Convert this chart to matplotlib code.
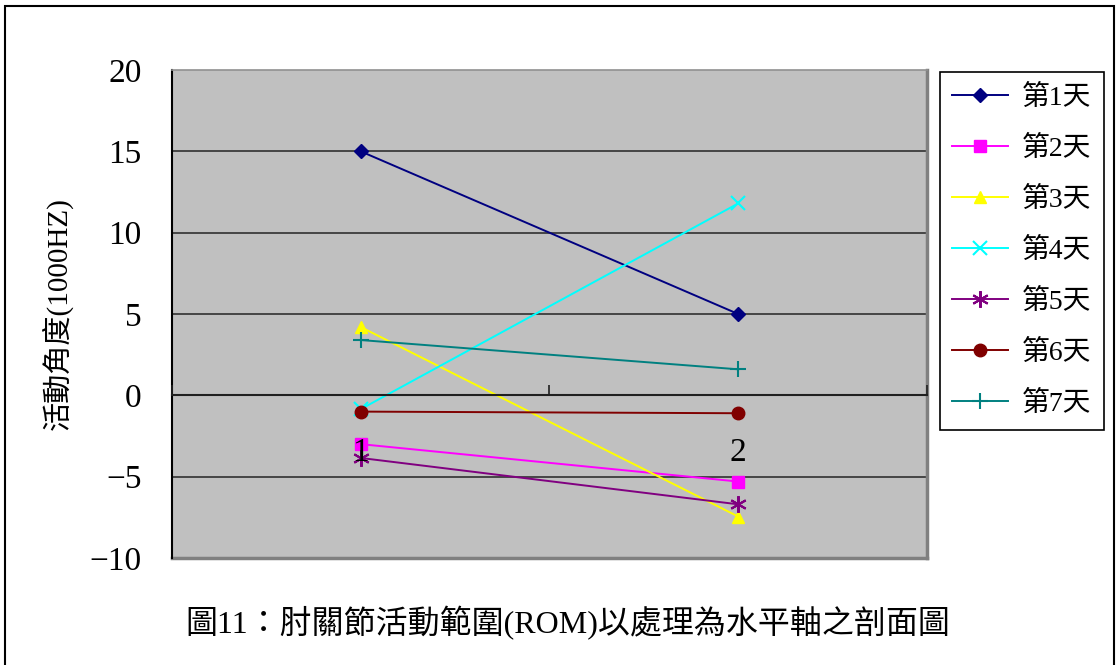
import matplotlib.pyplot as plt
from matplotlib.patches import Rectangle

plt.rcParams['font.family'] = ['Liberation Serif', 'Noto Sans CJK TC']
plt.rcParams['axes.unicode_minus'] = True

# 處理次數 (x 軸類別)
categories = [1, 2]
labels = ['第1天', '第2天', '第3天', '第4天', '第5天', '第6天', '第7天']

day1 = [15.0, 5.0]
day2 = [-3.0, -5.3]
day3 = [4.2, -7.45]
day4 = [-0.85, 11.8]
day5 = [-3.85, -6.7]
day6 = [-1.0, -1.1]
day7 = [3.4, 1.6]

series = [day1, day2, day3, day4, day5, day6, day7]
colors = ['#000080', '#FF00FF', '#FFFF00', '#00FFFF', '#800080', '#800000', '#008080']
markers = ['D', 's', '^', 'x', (6, 2, 0), 'o', '+']
msizes = [7, 8, 9, 10, 12, 9, 12]

fig = plt.figure(figsize=(11.16, 6.65), dpi=100)
ax = fig.add_axes([0.1541, 0.1609, 0.6765, 0.7338])
ax.set_facecolor('#C0C0C0')

for vals, lab, c, m, ms in zip(series, labels, colors, markers, msizes):
    ax.plot(categories, vals, color=c, marker=m, markersize=ms, lw=1.4,
            label=lab, markeredgewidth=1.5 if m in ('x', '+') or isinstance(m, tuple) else 1,
            zorder=2)

ax.set_xlim(0.5, 2.5)
ax.set_ylim(-10, 20)
ax.set_yticks(range(-10, 21, 5))
for y in range(-5, 20, 5):
    if y != 0:
        ax.axhline(y, color='#303030', lw=1.2, zorder=1)

# 零軸與類別刻度 (軸在折線之上)
ax.set_axisbelow(False)
ax.spines['bottom'].set_position(('data', 0))
ax.spines['bottom'].set_color('#202020')
ax.spines['bottom'].set_linewidth(1.5)
ax.set_xticks([0.5, 1.5, 2.5])
ax.set_xticks(categories, minor=True)
ax.set_xticklabels(['', '', ''])
ax.set_xticklabels([str(c) for c in categories], minor=True)
ax.tick_params(axis='x', which='major', direction='in', length=7, width=1.2, color='#202020')
ax.tick_params(axis='x', which='minor', length=0, pad=30, labelsize=24)
ax.tick_params(axis='y', length=0, pad=22, labelsize=24)

ax.spines['top'].set_color('#909090')
ax.spines['top'].set_linewidth(1.2)
ax.spines['right'].set_color('#808080')
ax.spines['right'].set_linewidth(2.5)
ax.spines['left'].set_color('black')
ax.spines['left'].set_linewidth(1.5)
ax.plot([0, 1], [0, 0], transform=ax.transAxes, color='#808080', lw=2.5,
        clip_on=False, zorder=0)

ax.set_ylabel('活動角度(1000HZ)', fontsize=21, labelpad=12)

leg = ax.legend(loc='upper left', bbox_to_anchor=(1.017, 0.996), fontsize=20,
                frameon=True, fancybox=False, edgecolor='black', framealpha=1,
                handlelength=2.0, labelspacing=0.9, borderpad=0.45, handletextpad=0.5,
                borderaxespad=0)
leg.get_frame().set_linewidth(1.2)

fig.text(0.509, 0.063, '圖11：肘關節活動範圍(ROM)以處理為水平軸之剖面圖',
         ha='center', va='center', fontsize=23)

# 外框
fig.add_artist(Rectangle((5 / 1116, -0.05), 1109 / 1116, 1.05 - 6 / 665,
                         transform=fig.transFigure, fill=False, edgecolor='black', lw=1.5))

fig.savefig('out.png', dpi=100)
